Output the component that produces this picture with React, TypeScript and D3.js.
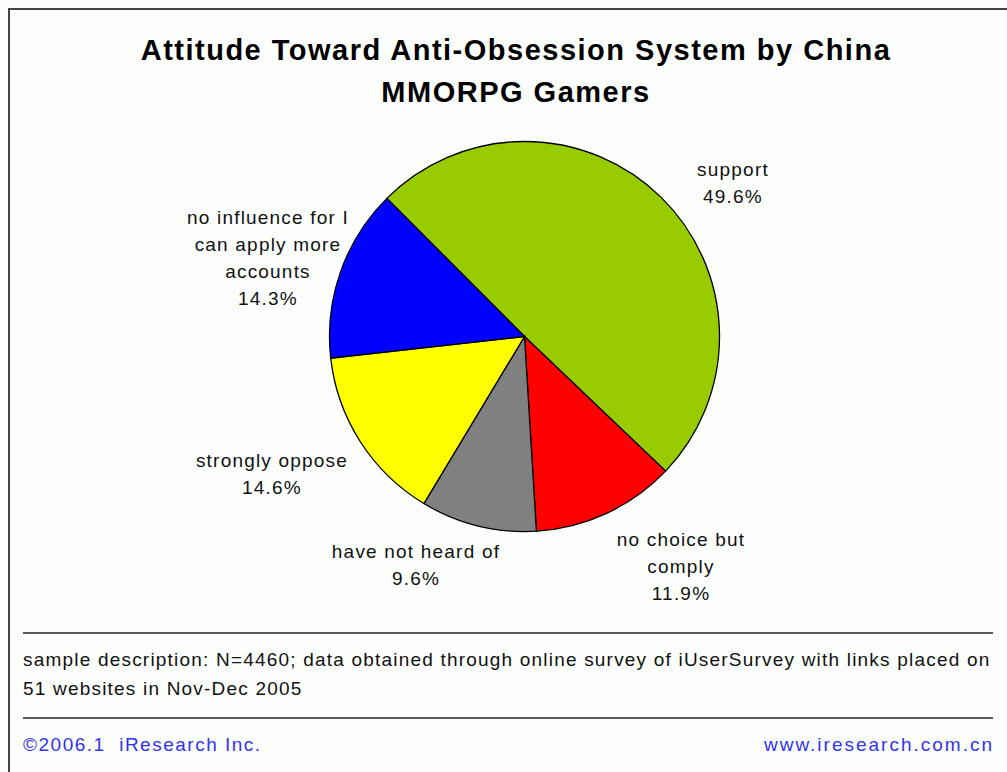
import React from "react";
import * as d3 from "d3";

const categories = ["support", "no choice but comply", "have not heard of", "strongly oppose", "no influence for I can apply more accounts"];
const values = [49.6, 11.9, 9.6, 14.6, 14.3];
const colors = ["#99CC00", "#FF0000", "#808080", "#FFFF00", "#0000FF"];
const labelLines = [
  ["support", "49.6%"],
  ["no choice but", "comply", "11.9%"],
  ["have not heard of", "9.6%"],
  ["strongly oppose", "14.6%"],
  ["no influence for I", "can apply more", "accounts", "14.3%"],
];
const labelPos: [number, number][] = [
  [733, 176],
  [681, 546],
  [416, 558],
  [272, 467],
  [268, 224],
];
const titleLines = ["Attitude Toward Anti-Obsession System by China", "MMORPG Gamers"];
const noteLines = [
  "sample description: N=4460; data obtained through online survey of iUserSurvey with links placed on",
  "51 websites in Nov-Dec 2005",
];
const creditLeft = "©2006.1\u00a0 iResearch Inc.";
const creditRight = "www.iresearch.com.cn";

export default function App() {
  const W = 1007, H = 772;
  const cx = 524.5, cy = 336.5, r = 195;
  const startA = (-44.9 * Math.PI) / 180;
  const pie = d3.pie<number>().sort(null).startAngle(startA).endAngle(startA + 2 * Math.PI);
  const arcs = pie(values);
  const arc = d3.arc<d3.PieArcDatum<number>>().innerRadius(0).outerRadius(r);
  const font = "Arial, 'Liberation Sans', sans-serif";
  const fs = 19;
  const ls = 1.2;
  return (
    <svg width={W} height={H} style={{ position: "absolute", left: 0, top: 0, background: "#fcfefc" }} fontFamily={font}>
      <rect x={0} y={0} width={W} height={H} fill="#fcfefc" />
      <path d={`M9,${H + 5} L9,9 L${W + 5},9`} fill="none" stroke="#444" strokeWidth={2} />
      {titleLines.map((t, i) => (
        <text key={i} x={516} y={60 + i * 42} textAnchor="middle" fontSize={29} fontWeight="bold" letterSpacing={1.5} fill="#000">{t}</text>
      ))}
      <g transform={`translate(${cx},${cy})`}>
        {arcs.map((a, i) => (
          <path key={categories[i]} d={arc(a) as string} fill={colors[i]} stroke="#000" strokeWidth={1.3} />
        ))}
      </g>
      {labelLines.map((lines, i) => (
        <text key={i} textAnchor="middle" fontSize={fs} letterSpacing={ls} fill="#111">
          {lines.map((l, j) => (
            <tspan key={j} x={labelPos[i][0]} y={labelPos[i][1] + j * 27}>{l}</tspan>
          ))}
        </text>
      ))}
      <line x1={23} x2={993} y1={633} y2={633} stroke="#222" strokeWidth={1.5} />
      {noteLines.map((t, i) => (
        <text key={i} x={23} y={666 + i * 29} fontSize={fs} letterSpacing={ls} fill="#111">{t}</text>
      ))}
      <line x1={23} x2={993} y1={718} y2={718} stroke="#222" strokeWidth={1.5} />
      <text x={23} y={751} fontSize={fs} letterSpacing={ls + 0.3} fill="#3333ee">{creditLeft}</text>
      <text x={994} y={751} fontSize={fs} letterSpacing={ls + 0.8} fill="#3333ee" textAnchor="end">{creditRight}</text>
    </svg>
  );
}
